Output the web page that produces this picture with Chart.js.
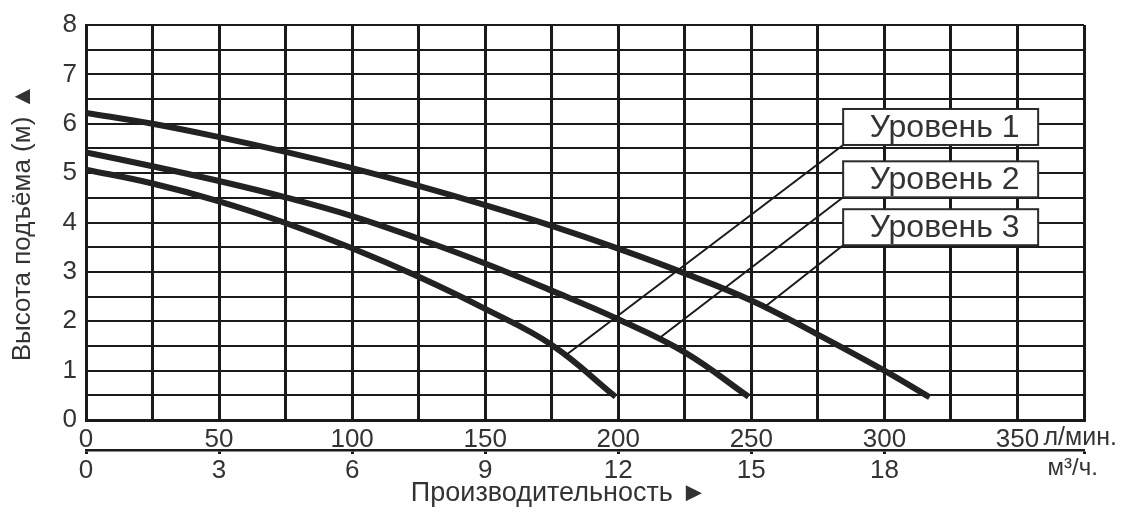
<!DOCTYPE html>
<html>
<head>
<meta charset="utf-8">
<script src="https://cdn.jsdelivr.net/npm/chart.js@4"></script>
<style>
  html, body { margin: 0; padding: 0; background: #fff; }
  #wrap { width: 1130px; height: 516px; }
</style>
</head>
<body>
<div id="wrap"><canvas id="chart"></canvas></div>
<script>
// flow in l/min, head in m
const flowLevel1 = [0, 25, 50, 75, 100, 125, 150, 175, 200, 225, 250, 275, 300, 317];
const headLevel1 = [6.22, 6.0, 5.73, 5.43, 5.1, 4.74, 4.35, 3.93, 3.47, 2.97, 2.42, 1.73, 1.0, 0.46];

const flowLevel2 = [0, 25, 50, 75, 100, 125, 150, 175, 200, 225, 249];
const headLevel2 = [5.42, 5.14, 4.84, 4.51, 4.13, 3.67, 3.17, 2.62, 2.04, 1.37, 0.47];

const flowLevel3 = [0, 25, 50, 75, 100, 125, 150, 175, 199];
const headLevel3 = [5.07, 4.79, 4.43, 3.99, 3.48, 2.9, 2.25, 1.52, 0.47];

const levelLabels = ['Уровень 1', 'Уровень 2', 'Уровень 3'];
// box bottom-left corner and the point each leader line points to (data units)
const labelAnchorX = 284.5;
const labelAnchorY = [5.57, 4.51, 3.54];
const leaderEndX = [180, 215, 255];
const leaderEndY = [1.3, 1.64, 2.29];

const flowMax = 375;       // l/min
const headMax = 8;         // m
const cubicMax = 22.5;     // m3/h (375 l/min)

const FONT = '"Liberation Sans", Arial, sans-serif';
const INK = '#1a1a1a';
const TEXT = '#333';

function toPoints(xs, ys) {
    return xs.map((v, i) => ({ x: v, y: ys[i] }));
}

function curve(xs, ys) {
    return {
        data: toPoints(xs, ys),
        borderColor: '#222',
        borderWidth: 6,
        pointRadius: 0,
        fill: false,
        tension: 0.4
    };
}

const overlayPlugin = {
    id: 'overlay',
    afterDatasetsDraw(chart) {
        const { ctx, scales } = chart;
        const x = scales.x, y = scales.y;
        const boxW = 195, boxH = 36;

        ctx.save();
        // leader lines first, boxes go over them
        ctx.strokeStyle = INK;
        ctx.lineWidth = 2;
        levelLabels.forEach((label, i) => {
            ctx.beginPath();
            ctx.moveTo(x.getPixelForValue(labelAnchorX), y.getPixelForValue(labelAnchorY[i]));
            ctx.lineTo(x.getPixelForValue(leaderEndX[i]), y.getPixelForValue(leaderEndY[i]));
            ctx.stroke();
        });

        ctx.font = '32px ' + FONT;
        ctx.textAlign = 'center';
        ctx.textBaseline = 'middle';
        levelLabels.forEach((label, i) => {
            const bx = x.getPixelForValue(labelAnchorX);
            const by = y.getPixelForValue(labelAnchorY[i]) - boxH;
            ctx.fillStyle = '#fff';
            ctx.fillRect(bx, by, boxW, boxH);
            ctx.strokeStyle = '#2a2a2a';
            ctx.lineWidth = 2;
            ctx.strokeRect(bx, by, boxW, boxH);
            ctx.fillStyle = TEXT;
            ctx.fillText(label, bx + boxW / 2 + 4, by + boxH / 2 + 1);
        });
        ctx.restore();
    },
    afterDraw(chart) {
        const { ctx, scales, chartArea } = chart;
        ctx.save();
        ctx.fillStyle = TEXT;
        ctx.textBaseline = 'middle';
        ctx.textAlign = 'left';
        ctx.font = '25px ' + FONT;
        ctx.fillText('л/мин.', scales.x.getPixelForValue(350) + 26, 438);
        ctx.font = '24px ' + FONT;
        ctx.fillText('м³/ч.', scales.x2.getPixelForValue(21) + 30, 468);

        ctx.font = '27px ' + FONT;
        ctx.textAlign = 'center';
        ctx.fillText('Производительность ►', (chartArea.left + chartArea.right) / 2 - 26, 494);
        ctx.restore();
    }
};

new Chart(document.getElementById('chart'), {
    type: 'line',
    data: {
        datasets: [
            curve(flowLevel1, headLevel1),
            curve(flowLevel2, headLevel2),
            curve(flowLevel3, headLevel3)
        ]
    },
    options: {
        responsive: true,
        maintainAspectRatio: false,
        animation: false,
        layout: { padding: { top: 25, right: 46, left: 0, bottom: 0 } },
        plugins: {
            legend: { display: false },
            tooltip: { enabled: false }
        },
        scales: {
            x: {
                type: 'linear',
                position: 'bottom',
                min: 0,
                max: flowMax,
                afterFit: (scale) => { scale.height = 30; },
                grid: { color: INK, lineWidth: 3, drawTicks: false },
                border: { color: INK, width: 3 },
                ticks: {
                    stepSize: 25,
                    padding: 4,
                    maxRotation: 0,
                    autoSkip: false,
                    color: TEXT,
                    font: { family: FONT, size: 26 },
                    callback: (v) => (v % 50 === 0 && v <= 350 ? String(v) : '')
                }
            },
            x2: {
                type: 'linear',
                position: 'bottom',
                min: 0,
                max: cubicMax,
                afterFit: (scale) => { scale.height = 66; },
                grid: {
                    display: true,
                    drawOnChartArea: false,
                    drawTicks: true,
                    tickLength: 4,
                    tickWidth: 3,
                    tickColor: INK
                },
                border: { color: INK, width: 2.5 },
                ticks: {
                    stepSize: 3,
                    padding: 1,
                    maxRotation: 0,
                    autoSkip: false,
                    color: TEXT,
                    font: { family: FONT, size: 26 },
                    callback: (v) => (v % 3 === 0 ? String(v) : '')
                }
            },
            y: {
                type: 'linear',
                min: 0,
                max: headMax,
                afterFit: (scale) => { scale.width = 86; },
                grid: { color: INK, lineWidth: 2, drawTicks: false },
                border: { color: INK, width: 3 },
                title: {
                    display: true,
                    text: 'Высота подъёма (м) ▲',
                    color: TEXT,
                    font: { family: FONT, size: 26 },
                    padding: { top: 7, bottom: 0 }
                },
                ticks: {
                    stepSize: 0.5,
                    padding: 9,
                    autoSkip: false,
                    color: TEXT,
                    font: { family: FONT, size: 26 },
                    callback: (v) => (Number.isInteger(v) ? String(v) : '')
                }
            }
        }
    },
    plugins: [overlayPlugin]
});
</script>
</body>
</html>
